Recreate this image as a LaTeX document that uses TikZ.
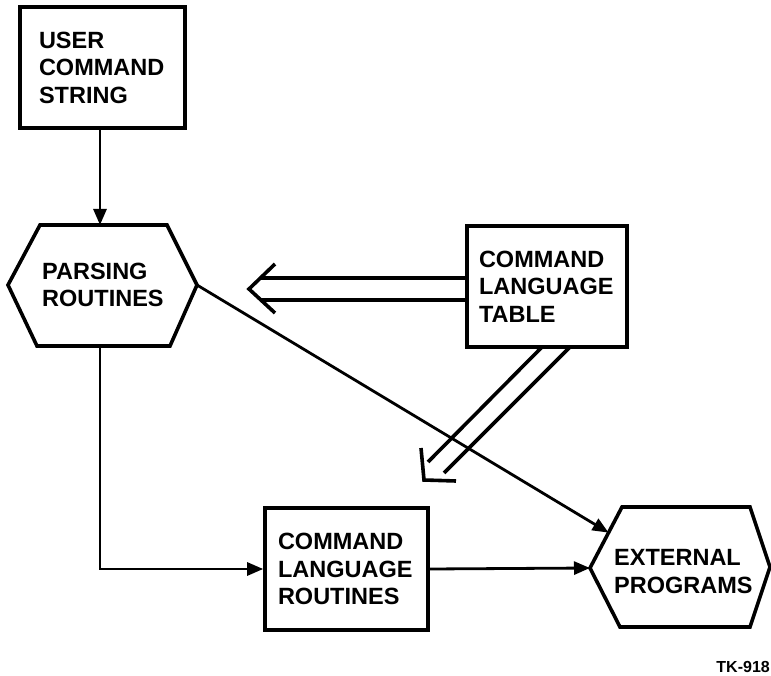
\documentclass[tikz,border=0pt]{standalone}
\usepackage{fontspec}
\setmainfont{Liberation Sans}
\usetikzlibrary{arrows.meta,calc}
\begin{document}
\begin{tikzpicture}[x=1pt,y=-1pt,
  every node/.style={font=\fontsize{23.5}{27.5}\selectfont\bfseries, inner sep=0pt},
  box/.style={draw, line width=3.6pt, align=left, inner ysep=0pt},
  txt/.style={align=left, anchor=west},
  hexline/.style={line width=3.6pt, line join=miter},
  flow/.style={line width=2.8pt, -{Triangle[length=16pt,width=13pt]}},
  hollow/.style={line width=3.6pt},
  tag/.style={font=\fontsize{16}{16}\selectfont\bfseries, anchor=south east}]
\useasboundingbox (0,0) rectangle (771,676);

% rectangular boxes
\node[box, minimum width=165pt, minimum height=121pt, text width=127pt, inner xsep=19pt]
  (ucs) at (102.5,67.5) {USER\\COMMAND\\STRING};
\node[box, minimum width=160pt, minimum height=121pt, text width=136pt, inner xsep=12pt]
  (table) at (547,286.5) {COMMAND\\LANGUAGE\\TABLE};
\node[box, minimum width=163pt, minimum height=122pt, text width=137pt, inner xsep=13pt]
  (clr) at (346.5,569) {COMMAND\\LANGUAGE\\ROUTINES};

% hexagon: parsing routines
\coordinate (pw)  at (8,285);
\coordinate (pnw) at (40,225);
\coordinate (pne) at (167,225);
\coordinate (pe)  at (197,285);
\coordinate (pse) at (170,346);
\coordinate (psw) at (37,346);
\coordinate (pn)  at (100,225);
\coordinate (ps)  at (100,346);
\draw[hexline] (pw) -- (pnw) -- (pne) -- (pe) -- (pse) -- (psw) -- cycle;
\node[txt] (parse) at (42,285) {PARSING\\ROUTINES};

% hexagon: external programs
\coordinate (ew)  at (590,568);
\coordinate (enw) at (622,507);
\coordinate (ene) at (750,507);
\coordinate (ee)  at (770,567);
\coordinate (ese) at (750,627);
\coordinate (esw) at (620,627);
\draw[hexline] (ew) -- (enw) -- (ene) -- (ee) -- (ese) -- (esw) -- cycle;
\node[txt] (ext) at (614,571.5) {EXTERNAL\\PROGRAMS};
\coordinate (eul) at ($(ew)!0.58!(enw)$);

% control flow
\draw[flow] (pn |- ucs.south) -- (pn);
\draw[flow] (ps) |- (clr.west);
\draw[flow] (clr.east) -- (ew);
\draw[flow] (pe) -- (eul);

% table lookups (hollow arrows)
\coordinate (h1s) at (467,278);
\coordinate (h2s) at (467,300);
\coordinate (h1e) at (260.5,278);
\coordinate (h2e) at (260.9,300);
\coordinate (hwa) at (275,264);
\coordinate (htip) at (249,289);
\coordinate (hwb) at (275,313);
\draw[hollow] (h1s) -- (h1e);
\draw[hollow] (h2s) -- (h2e);
\draw[hollow, line join=miter] (hwa) -- (htip) -- (hwb);

\coordinate (d1s) at (542,347);
\coordinate (d2s) at (570,347);
\coordinate (d1e) at (428,462);
\coordinate (d2e) at (444,473);
\coordinate (dwa) at (421,448);
\coordinate (dtip) at (424,480);
\coordinate (dwb) at (456,481);
\draw[hollow] (d1s) -- (d1e);
\draw[hollow] (d2s) -- (d2e);
\draw[hollow, line join=miter] (dwa) -- (dtip) -- (dwb);

\node[tag] (tk) at (770,673) {TK-918};
\end{tikzpicture}
\end{document}
